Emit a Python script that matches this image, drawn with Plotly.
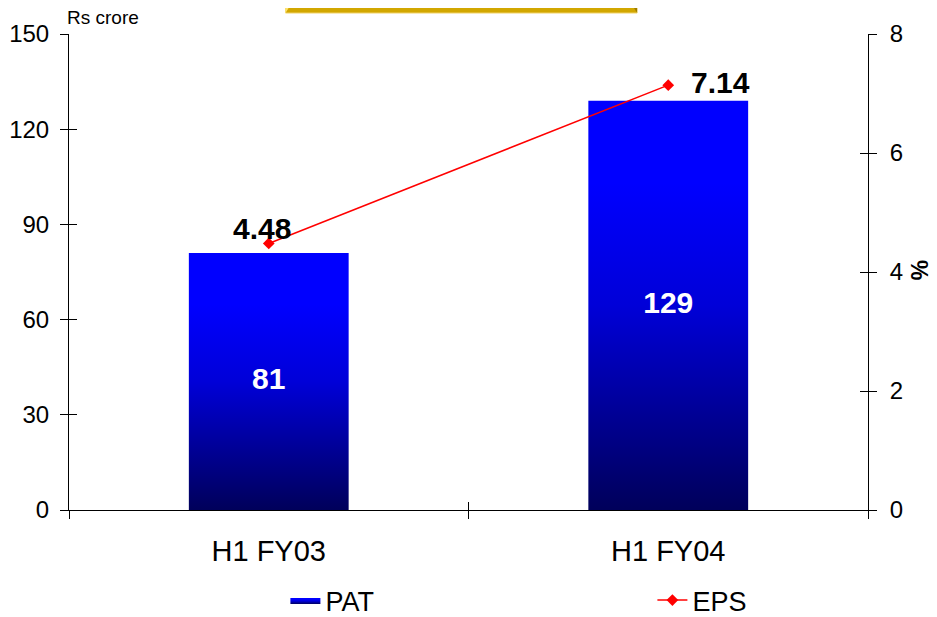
import plotly.graph_objects as go

# data
periods = ["H1 FY03", "H1 FY04"]
pat = [81, 129]      # Rs crore, left axis
eps = [4.48, 7.14]   # right axis

bar_w = 0.4
pos = list(range(len(periods)))
font = "Liberation Sans, Arial, sans-serif"

fig = go.Figure()

# PAT bars drawn as gradient-filled polygons (plotly bars have no gradient)
for i, v in enumerate(pat):
    xs = [pos[i] - bar_w / 2, pos[i] + bar_w / 2, pos[i] + bar_w / 2, pos[i] - bar_w / 2, pos[i] - bar_w / 2]
    ys = [0, 0, v, v, 0]
    fig.add_trace(go.Scatter(
        x=xs, y=ys, mode="lines", fill="toself",
        line=dict(width=0, color="#0000FF"),
        fillgradient=dict(type="vertical", start=0, stop=v,
                          colorscale=[[0, "#00005A"], [0.5, "#0000D8"], [0.8, "#0000FF"], [1, "#0000FF"]]),
        name="PAT", legendgroup="PAT", showlegend=(i == 0), hoverinfo="skip",
    ))

# bar value labels
fig.add_trace(go.Scatter(
    x=pos, y=[v / 2 for v in pat], mode="text",
    text=[str(v) for v in pat],
    textfont=dict(color="white", size=30, family=font, weight="bold"),
    showlegend=False, hoverinfo="skip",
))

# EPS line on the right axis
fig.add_trace(go.Scatter(
    x=pos, y=eps, mode="lines+markers", name="EPS",
    line=dict(color="#FF0000", width=1.5),
    marker=dict(symbol="diamond", size=9, color="#FF0000"),
    yaxis="y2",
))

# empty traces so the overlay axes (inside half of the crossing ticks) get drawn
fig.add_trace(go.Scatter(x=[], y=[], xaxis="x2", yaxis="y", showlegend=False, hoverinfo="skip"))
fig.add_trace(go.Scatter(x=[], y=[], xaxis="x", yaxis="y3", showlegend=False, hoverinfo="skip"))
fig.add_trace(go.Scatter(x=[], y=[], xaxis="x", yaxis="y4", showlegend=False, hoverinfo="skip"))

fig.add_annotation(x=pos[0], y=eps[0], xref="x", yref="y2", text="<b>%.2f</b>" % eps[0],
                   showarrow=False, xshift=-7, yshift=15,
                   font=dict(size=30, color="black", family=font))
fig.add_annotation(x=pos[1], y=eps[1], xref="x", yref="y2", text="<b>%.2f</b>" % eps[1],
                   showarrow=False, xanchor="left", xshift=21, yshift=3,
                   font=dict(size=30, color="black", family=font))

fig.add_annotation(x=-0.005, y=1.034, xref="paper", yref="paper", text="Rs crore",
                   showarrow=False, xanchor="left", yanchor="middle",
                   font=dict(size=19, color="black", family=font))
fig.add_annotation(x=1.0, y=0.504, xref="paper", yref="paper", text="<b>%</b>",
                   showarrow=False, textangle=90, xanchor="center", xshift=51,
                   borderpad=0,
                   font=dict(size=23, color="black", family=font))

# gold title banner peeking in at the top
fig.add_shape(type="rect", xref="paper", yref="paper", x0=0.271, x1=0.711, y0=1.044, y1=1.08,
              fillcolor="#D2A700", line=dict(color="#F3D774", width=1), layer="above")
fig.add_shape(type="path", xref="paper", yref="paper",
              path="M 0.271 1.044 L 0.271 1.08 L 0.284 1.08 Z",
              fillcolor="#FFE36A", line=dict(width=0))
fig.add_shape(type="path", xref="paper", yref="paper",
              path="M 0.711 1.044 L 0.711 1.08 L 0.698 1.08 Z",
              fillcolor="#9C7C00", line=dict(width=0))

axis_font = dict(size=24, color="black", family=font)
# page body adds 8px, so the figure is 8px smaller and margins shifted to match
fig.update_layout(
    width=929, height=609,
    margin=dict(l=61, r=69, t=26, b=107),
    plot_bgcolor="white", paper_bgcolor="white",
    font=dict(family=font, color="black"),
    xaxis=dict(range=[-0.5, 1.5], tickvals=pos, ticktext=periods, ticks="",
               showline=True, linecolor="black", linewidth=1, showgrid=False, zeroline=False,
               tickfont=dict(size=29, color="black", family=font), ticklabelstandoff=15,
               automargin=False,
               minor=dict(tickvals=[-0.5, 0.5, 1.5], ticks="outside", ticklen=8,
                          tickcolor="black", tickwidth=1)),
    xaxis2=dict(overlaying="x", range=[-0.5, 1.5], tickvals=[-0.5, 0.5, 1.5], ticks="inside",
                ticklen=8, tickcolor="black", showticklabels=False, showgrid=False,
                zeroline=False, showline=False, anchor="y", automargin=False),
    yaxis=dict(range=[0, 150], dtick=30, ticks="outside", ticklen=8, tickcolor="black",
               showline=True, linecolor="black", linewidth=1, showgrid=False, zeroline=False,
               tickfont=axis_font, ticklabelstandoff=6, automargin=False),
    yaxis3=dict(overlaying="y", range=[0, 150], dtick=30, ticks="inside", ticklen=8,
                tickcolor="black", showticklabels=False, showgrid=False, zeroline=False,
                showline=False, anchor="x", automargin=False),
    yaxis2=dict(overlaying="y", side="right", range=[0, 8], dtick=2, ticks="outside",
                ticklen=8, tickcolor="black", showline=True, linecolor="black", linewidth=1,
                showgrid=False, zeroline=False, tickfont=axis_font, ticklabelstandoff=8,
                anchor="x", automargin=False),
    yaxis4=dict(overlaying="y", side="right", range=[0, 8], dtick=2, ticks="inside",
                ticklen=8, tickcolor="black", showticklabels=False, showgrid=False,
                zeroline=False, showline=False, anchor="x", automargin=False),
    legend=dict(orientation="h", xref="container", yref="container",
                x=0.2986, xanchor="left", y=0.027, yanchor="middle",
                font=dict(size=27, color="black", family=font),
                entrywidth=322, traceorder="normal"),
    showlegend=True,
)

fig.write_html("out.html")
